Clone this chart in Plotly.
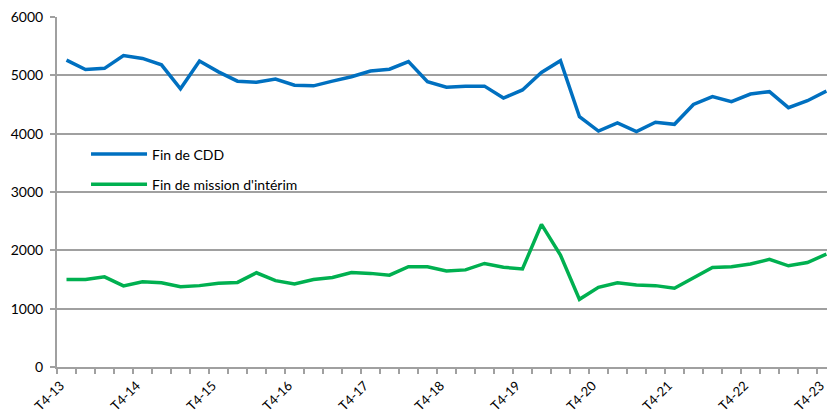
import plotly.graph_objects as go

quarters = []
for yr in range(13, 24):
    if yr == 13:
        quarters.append("T4-13")
        continue
    for q in (1, 2, 3, 4):
        quarters.append(f"T{q}-{yr}")

fin_cdd = [5260, 5100, 5120, 5340, 5290, 5180, 4770, 5245, 5060, 4900,
           4880, 4935, 4830, 4820, 4900, 4975, 5075, 5105, 5235, 4890,
           4795, 4815, 4815, 4610, 4750, 5050, 5250, 4290, 4045, 4185,
           4035, 4195, 4160, 4500, 4635, 4550, 4680, 4720, 4445, 4565,
           4730]

fin_interim = [1500, 1500, 1545, 1390, 1460, 1445, 1375, 1395, 1435, 1450,
               1615, 1480, 1425, 1500, 1535, 1620, 1605, 1575, 1720, 1720,
               1645, 1665, 1775, 1710, 1680, 2445, 1920, 1160, 1365, 1445,
               1405, 1395, 1350, 1520, 1705, 1720, 1765, 1845, 1735, 1790,
               1935]

series_names = ["Fin de CDD", "Fin de mission d'intérim"]
series_colors = ["#0070C0", "#00B050"]

label_idx = list(range(0, len(quarters), 4))
label_text = [quarters[i] for i in label_idx]

x_idx = list(range(len(quarters)))

fig = go.Figure()
for name, vals, col in zip(series_names, [fin_cdd, fin_interim], series_colors):
    fig.add_trace(go.Scatter(
        x=x_idx, y=vals, mode="lines", name=name,
        line=dict(color=col, width=3.5),
        legendgroup=name, cliponaxis=False,
    ))

font_family = "Lato, 'Open Sans', sans-serif"
axis_color = "#A0A0A0"

fig.update_layout(
    width=827, height=414,
    margin=dict(l=57, r=0, t=17, b=47),
    paper_bgcolor="white", plot_bgcolor="white",
    font=dict(family=font_family, size=14, color="#000000"),
    showlegend=True,
    legend=dict(
        x=0.0377, y=0.653, xanchor="left", yanchor="top",
        bgcolor="rgba(0,0,0,0)", borderwidth=0,
        font=dict(size=14, family=font_family),
        itemwidth=56, tracegroupgap=9,
    ),
    xaxis=dict(
        range=[-0.5, 40.03], automargin=False,
        tickmode="array", tickvals=label_idx, ticktext=label_text,
        tickangle=-45, ticks="", showgrid=False, zeroline=False,
        showline=True, linecolor=axis_color, linewidth=2,
        ticklabeloverflow="allow", ticklabelshift=-6, ticklabelstandoff=4,
        tickfont=dict(size=13, family=font_family),
        minor=dict(tickmode="linear", tick0=-0.5, dtick=1, ticks="outside",
                   ticklen=5, tickcolor=axis_color, tickwidth=1.5, showgrid=False),
    ),
    yaxis=dict(
        range=[0, 6000], dtick=1000, tick0=0, automargin=False,
        showgrid=True, gridcolor=axis_color, gridwidth=1.5,
        zeroline=False, showline=True, linecolor=axis_color, linewidth=2,
        ticks="outside", ticklen=5, tickcolor=axis_color, tickwidth=1.5,
        ticklabeloverflow="allow", ticklabelstandoff=4,
        tickfont=dict(size=14, family=font_family),
    ),
)

fig.write_html(
    "out.html",
    config={"displayModeBar": False},
    post_script="document.body.style.margin='0';document.body.style.overflow='hidden';",
)
